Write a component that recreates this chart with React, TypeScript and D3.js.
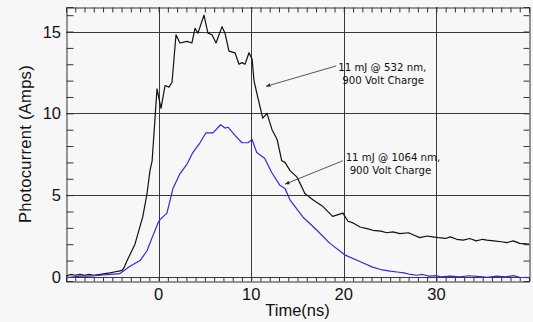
import React, { useEffect, useRef } from "react";
import * as d3 from "d3";

// 532 nm pulse (black): time in ns, current in amps
const greenTime = [-10, -9.5, -9, -8.5, -8, -7.5, -7, -6.3, -5.8, -5.25, -4.8, -4.3, -3.95, -3.7, -3.4, -2.55, -1.7, -1.25, -0.93, -0.7, -0.4, -0.17, 0.26, 0.7, 1.12, 1.45, 1.88, 2.3, 3.07, 3.6, 3.93, 4.25, 4.9, 5.33, 5.77, 6.2, 6.85, 7.17, 7.6, 8.25, 8.68, 9.0, 9.33, 9.76, 10.1, 10.3, 10.7, 11.25, 11.7, 12.25, 12.8, 13.3, 13.65, 14.2, 14.95, 15.8, 16.7, 17.75, 18.8, 19.9, 20.45, 21, 21.75, 22.5, 23.15, 24, 24.65, 25.3, 26.05, 27, 27.6, 28.2, 29, 29.6, 30.2, 31, 31.5, 32.2, 32.9, 33.6, 34.3, 35, 35.45, 36.2, 37, 37.6, 38.3, 39, 40];
const greenAmps = [0.05, 0.15, 0.1, 0.15, 0.1, 0.15, 0.1, 0.15, 0.2, 0.25, 0.3, 0.35, 0.4, 0.6, 1.0, 2.0, 3.7, 5.1, 6.5, 7.1, 9.6, 11.5, 10.3, 11.7, 11.6, 11.9, 14.8, 14.3, 14.4, 14.3, 15.2, 14.9, 16.0, 14.9, 14.8, 14.3, 15.3, 14.9, 13.8, 13.7, 13.0, 13.1, 13.0, 13.7, 13.3, 12.0, 11.0, 9.7, 10.0, 9.0, 8.4, 7.1, 7.0, 6.5, 6.1, 5.1, 4.7, 4.3, 3.7, 3.9, 3.4, 3.3, 3.05, 2.95, 2.85, 2.8, 2.7, 2.75, 2.65, 2.7, 2.55, 2.4, 2.5, 2.45, 2.4, 2.35, 2.45, 2.3, 2.25, 2.35, 2.2, 2.3, 2.25, 2.2, 2.15, 2.1, 2.2, 2.05, 2.0];

// 1064 nm pulse (blue)
const irTime = [-10, -8.5, -7.5, -6.3, -5.2, -4.2, -3.1, -2.0, -1.25, -0.7, -0.06, 0.15, 0.9, 1.55, 2.3, 3.07, 3.7, 4.47, 5.1, 5.87, 6.7, 7.17, 7.5, 8.25, 9.0, 9.65, 10.1, 10.6, 11.45, 12.2, 13.1, 13.65, 14.2, 15.6, 17.1, 18.5, 20.1, 22.1, 23.1, 24, 25, 25.75, 26.5, 27.2, 27.9, 28.5, 29.2, 30, 30.4, 31.5, 32.5, 33.5, 34.7, 35.5, 36.5, 37.5, 38.3, 39, 40];
const irAmps = [-0.05, 0.05, 0.05, 0.1, 0.15, 0.2, 0.65, 1.0, 1.6, 2.4, 3.3, 3.5, 3.9, 5.4, 6.3, 6.9, 7.6, 8.2, 8.8, 8.8, 9.3, 9.1, 9.15, 8.65, 8.2, 8.2, 8.4, 7.6, 7.25, 6.4, 5.6, 5.4, 4.7, 3.65, 2.85, 2.05, 1.35, 0.85, 0.6, 0.45, 0.35, 0.3, 0.25, 0.15, 0.1, 0.15, 0.05, 0.08, 0.0, 0.05, 0.0, 0.07, 0.02, -0.02, 0.05, 0.0, 0.08, -0.02, -0.05];

const xGrid = [0, 10, 20, 30];
const yGrid = [0, 5, 10, 15];
const xMinor = d3.range(-10, 41, 1);
const yMinor = d3.range(0, 17, 1);

// label lines, text anchor, arrow start and arrow tip, all in data units
const notes = [
  { lines: ["11 mJ @ 532 nm,", "900 Volt Charge"], at: [19.4, 12.8], from: [19.3, 12.9], to: [11.6, 11.65] },
  { lines: ["11 mJ @ 1064 nm,", "900 Volt Charge"], at: [20.2, 7.25], from: [20.0, 7.1], to: [13.65, 5.67] },
];

const W = 533;
const H = 322;

export default function App() {
  const ref = useRef<SVGSVGElement | null>(null);

  useEffect(() => {
    const svg = d3.select(ref.current);
    svg.selectAll("*").remove();

    const left = 66, right = 529, top = 7, bottom = 281;
    const x = d3.scaleLinear().domain([-10, 40]).range([left, right]);
    const y = d3.scaleLinear().domain([-0.25, 16.5]).range([bottom, top]);
    const ink = "#333";
    const font = "'Liberation Sans', Arial, sans-serif";

    svg.append("rect").attr("width", W).attr("height", H).attr("fill", "#f7f7f7");

    // grid
    const grid = svg.append("g").attr("stroke", "#3a3a3a").attr("stroke-width", 1);
    grid.selectAll("line.gx").data(xGrid).enter().append("line")
      .attr("x1", (d) => Math.round(x(d)) + 0.5).attr("x2", (d) => Math.round(x(d)) + 0.5)
      .attr("y1", top).attr("y2", bottom);
    grid.selectAll("line.gy").data(yGrid).enter().append("line")
      .attr("y1", (d) => Math.round(y(d)) + 0.5).attr("y2", (d) => Math.round(y(d)) + 0.5)
      .attr("x1", left).attr("x2", right);

    // frame axes with inward minor ticks
    const xTop = d3.axisTop(x).tickValues(xMinor).tickSize(-5).tickFormat(() => "");
    const xBot = d3.axisBottom(x).tickValues(xMinor).tickSize(-4).tickFormat(() => "");
    const yLeft = d3.axisLeft(y).tickValues(yMinor).tickSize(-7).tickFormat(() => "");
    const yRight = d3.axisRight(y).tickValues(yMinor).tickSize(-6).tickFormat(() => "");
    const frames: [any, string][] = [
      [xTop, `translate(0,${top + 0.5})`],
      [xBot, `translate(0,${bottom + 0.5})`],
      [yLeft, `translate(${left + 0.5},0)`],
      [yRight, `translate(${right + 0.5},0)`],
    ];
    frames.forEach(([ax, tr]) => {
      const g = svg.append("g").attr("transform", tr).call(ax);
      g.selectAll("path,line").attr("stroke", ink);
    });

    // tick labels
    svg.selectAll("text.xl").data(xGrid).enter().append("text")
      .attr("x", (d) => x(d)).attr("y", 300)
      .attr("text-anchor", "middle").attr("font-family", font).attr("font-size", 16.5).attr("fill", "#111")
      .text((d) => String(d));
    svg.selectAll("text.yl").data(yGrid).enter().append("text")
      .attr("x", 61).attr("y", (d) => y(d) + 6)
      .attr("text-anchor", "end").attr("font-family", font).attr("font-size", 16.5).attr("fill", "#111")
      .text((d) => String(d));

    svg.append("text").attr("x", (left + right) / 2).attr("y", 316)
      .attr("text-anchor", "middle").attr("font-family", font).attr("font-size", 16.5).attr("fill", "#111")
      .text("Time(ns)");
    svg.append("text").attr("transform", `translate(31,${(top + bottom) / 2}) rotate(-90)`)
      .attr("text-anchor", "middle").attr("font-family", font).attr("font-size", 16.5).attr("fill", "#111")
      .attr("letter-spacing", 0.3)
      .text("Photocurrent (Amps)");

    // curves
    const line = d3.line<[number, number]>().x((d) => x(d[0])).y((d) => y(d[1]));
    const series: [number[], number[], string][] = [
      [greenTime, greenAmps, "#111"],
      [irTime, irAmps, "#3a28d6"],
    ];
    series.forEach(([ts, as, color]) => {
      const pts = ts.map((t, i) => [t, as[i]] as [number, number]);
      svg.append("path").datum(pts).attr("d", line)
        .attr("fill", "none").attr("stroke", color).attr("stroke-width", 1.2)
        .attr("stroke-linejoin", "round");
    });

    // annotations
    svg.append("defs").append("marker").attr("id", "ah")
      .attr("viewBox", "0 0 10 10").attr("refX", 10).attr("refY", 5)
      .attr("markerWidth", 5).attr("markerHeight", 5).attr("orient", "auto")
      .append("path").attr("d", "M0,1 L10,5 L0,9 z").attr("fill", "#222");
    notes.forEach((n) => {
      svg.append("line")
        .attr("x1", x(n.from[0]) - 1).attr("y1", y(n.from[1]))
        .attr("x2", x(n.to[0])).attr("y2", y(n.to[1]))
        .attr("stroke", "#444").attr("stroke-width", 0.9).attr("marker-end", "url(#ah)");
      n.lines.forEach((s, i) => {
        svg.append("text").attr("x", x(n.at[0]) + (i ? 4 : 0)).attr("y", y(n.at[1]) + 3 + i * 13)
          .attr("font-family", "'DejaVu Sans', Verdana, sans-serif").attr("font-size", 10.2)
          .attr("fill", "#111").text(s);
      });
    });
  }, []);

  return (
    <svg ref={ref} width={W} height={H}
      style={{ position: "absolute", left: 0, top: 0, display: "block" }} />
  );
}
